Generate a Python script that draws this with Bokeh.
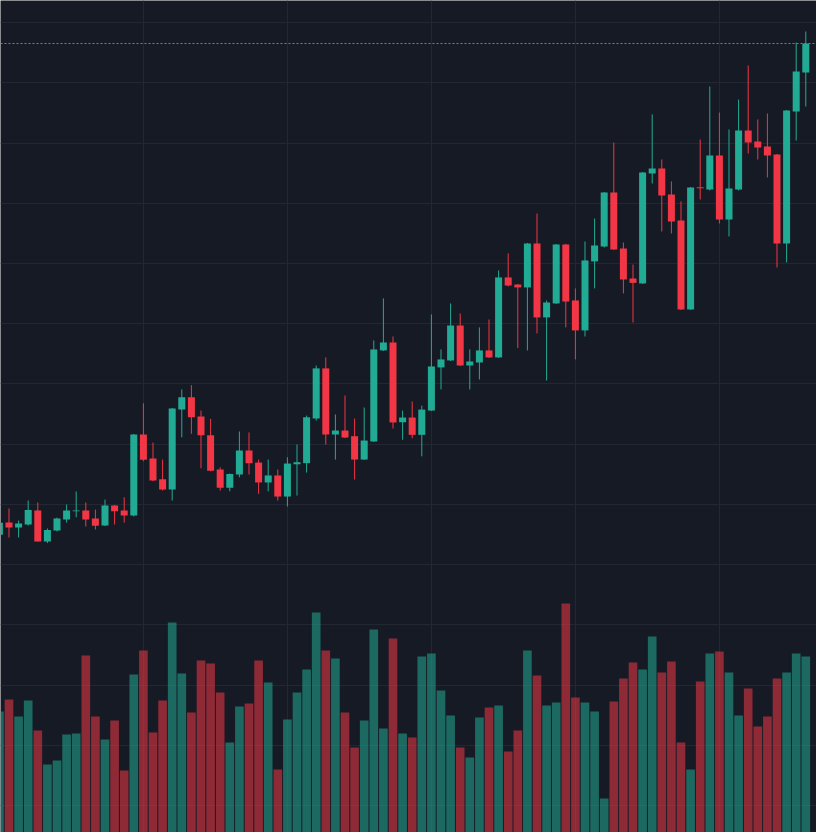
from bokeh.plotting import figure
from bokeh.models import Range1d, FixedTicker, Grid, ColumnDataSource, Span
from bokeh.embed import file_html
from bokeh.resources import INLINE

# ---- data ----
opens = [97.47, 98.49, 98.08, 98.33, 99.49, 96.92, 97.83, 98.74, 99.43, 99.49,
         98.83, 98.24, 99.91, 99.49, 99.07, 105.80, 103.81, 102.09, 101.23, 107.87,
         108.90, 107.29, 105.74, 102.89, 101.37, 102.48, 104.47, 103.47, 101.82, 102.40,
         100.65, 103.33, 103.42, 107.13, 111.29, 105.80, 106.13, 105.66, 103.72, 105.22,
         112.78, 113.44, 106.82, 107.21, 105.77, 107.79, 111.37, 111.95, 114.85, 111.53,
         111.78, 112.78, 112.20, 118.84, 118.25, 118.01, 121.66, 115.52, 116.68, 121.58,
         116.93, 114.44, 120.17, 121.41, 125.89, 121.24, 118.75, 118.34, 127.47, 127.88,
         125.73, 123.57, 116.18, 126.33, 126.14, 128.96, 123.65, 126.14, 131.04, 130.12,
         129.71, 129.05, 121.66, 132.62, 135.85]
highs = [98.66, 99.66, 98.66, 100.32, 100.15, 98.00, 98.90, 99.99, 101.07, 100.15,
         99.57, 100.40, 99.95, 100.59, 105.85, 108.40, 105.13, 103.72, 108.00, 109.54,
         109.90, 107.79, 107.10, 103.08, 102.56, 106.05, 105.97, 103.72, 103.72, 102.89,
         103.91, 104.97, 107.37, 111.53, 112.20, 107.46, 109.04, 107.13, 108.04, 113.61,
         117.10, 113.94, 107.79, 108.54, 108.20, 115.77, 112.86, 116.68, 115.85, 112.86,
         114.69, 115.35, 119.42, 120.83, 118.30, 121.70, 124.15, 116.93, 121.62, 121.62,
         117.93, 121.82, 123.73, 125.93, 130.04, 121.74, 119.91, 127.59, 132.37, 128.63,
         126.81, 125.15, 126.35, 130.29, 134.69, 132.53, 131.12, 133.61, 136.43, 131.95,
         132.45, 129.09, 132.74, 138.34, 139.26]
lows = [97.25, 97.25, 97.25, 98.24, 96.90, 96.79, 97.75, 98.49, 98.93, 98.16,
        97.91, 98.20, 98.33, 98.49, 99.00, 103.58, 101.92, 101.15, 100.32, 105.57,
        105.86, 103.00, 102.75, 101.15, 101.09, 102.25, 102.48, 100.88, 101.09, 100.32,
        99.82, 100.73, 102.64, 106.96, 104.97, 103.72, 105.50, 102.06, 103.68, 105.18,
        112.74, 106.30, 105.36, 105.49, 103.99, 107.75, 109.54, 111.90, 111.50, 109.54,
        110.37, 112.15, 112.15, 118.09, 112.97, 112.78, 114.19, 110.28, 116.64, 114.69,
        112.03, 113.94, 117.93, 121.33, 121.12, 117.51, 115.10, 118.30, 126.64, 122.65,
        122.49, 116.14, 116.14, 125.31, 126.06, 123.32, 122.24, 126.06, 129.13, 128.63,
        127.14, 119.66, 120.08, 130.21, 133.03]
closes = [98.47, 98.08, 98.41, 99.53, 96.92, 97.87, 98.83, 99.49, 99.49, 98.74,
          98.22, 99.91, 99.43, 99.07, 105.80, 103.70, 101.98, 101.23, 107.96, 108.90,
          107.23, 105.74, 102.80, 101.37, 102.53, 104.47, 103.42, 101.82, 102.40, 100.65,
          103.39, 103.50, 107.23, 111.29, 105.80, 106.13, 105.55, 103.72, 105.30, 112.86,
          113.44, 106.80, 107.21, 105.77, 107.87, 111.45, 112.03, 114.85, 111.53, 111.86,
          112.78, 112.20, 118.84, 118.17, 118.01, 121.66, 115.52, 116.76, 121.58, 116.84,
          114.44, 120.25, 121.49, 125.89, 121.16, 118.67, 118.39, 127.55, 127.88, 125.64,
          123.49, 116.18, 126.31, 126.25, 128.96, 123.65, 126.22, 131.04, 130.04, 129.63,
          128.96, 121.66, 132.70, 135.94, 138.26]
volumes = [1210, 1330, 1160, 1320, 1020, 680, 720, 980, 990, 1770,
           1160, 930, 1120, 620, 1580, 1820, 1000, 1320, 2100, 1590,
           1200, 1720, 1690, 1400, 900, 1260, 1290, 1720, 1500, 630,
           1130, 1400, 1630, 2200, 1820, 1740, 1200, 850, 1120, 2030,
           1040, 1940, 990, 950, 1760, 1790, 1420, 1170, 850, 750,
           1150, 1250, 1270, 810, 1020, 1820, 1570, 1270, 1300, 2290,
           1350, 1300, 1210, 340, 1310, 1540, 1700, 1630, 1960, 1600,
           1710, 900, 630, 1510, 1790, 1810, 1600, 1170, 1440, 1060,
           1160, 1540, 1600, 1790, 1760]
grid_prices = [75, 80, 85, 90, 95, 100, 105, 110, 115, 120, 125, 130, 135, 140]
grid_bars = [15, 30, 45, 60, 75]

# ---- styling ----
BG = "#161a25"
UP = "#22ab94"
DOWN = "#f23645"
GRID = "#232733"

n = len(opens)
idx = list(range(n))
up = [c >= o for o, c in zip(opens, closes)]
colors = [UP if u else DOWN for u in up]
src = ColumnDataSource(dict(
    x=idx, o=opens, h=highs, l=lows, c=closes, v=volumes,
    top=[max(o, c) for o, c in zip(opens, closes)],
    bottom=[min(o, c) for o, c in zip(opens, closes)],
    color=colors,
))

p = figure(width=816, height=832, output_backend="svg", toolbar_location=None,
           x_range=Range1d(0.115, 85.115), y_range=Range1d(72.76, 141.83),
           x_axis_location=None, y_axis_location=None,
           background_fill_color=BG, border_fill_color=BG,
           min_border=0, outline_line_color=None)
p.grid.visible = False
p.extra_y_ranges = {"vol": Range1d(0, 8320)}

p.add_layout(Grid(dimension=1, ticker=FixedTicker(ticks=grid_prices),
                  grid_line_color=GRID, grid_line_width=1))
p.add_layout(Grid(dimension=0, ticker=FixedTicker(ticks=grid_bars),
                  grid_line_color=GRID, grid_line_width=1))

# volume
p.vbar(x="x", top="v", bottom=0, width=0.9, source=src, y_range_name="vol",
       fill_color="color", fill_alpha=0.55, line_color=None)

# candles
p.segment(x0="x", y0="l", x1="x", y1="h", source=src, line_color="color", line_width=1)
p.vbar(x="x", top="top", bottom="bottom", width=0.73, source=src,
       fill_color="color", line_color=None)

# last price line
p.add_layout(Span(location=closes[-1], dimension="width", line_color=UP,
                  line_width=1, line_dash="2 2"))

open("out.html", "w").write(file_html(p, INLINE))
